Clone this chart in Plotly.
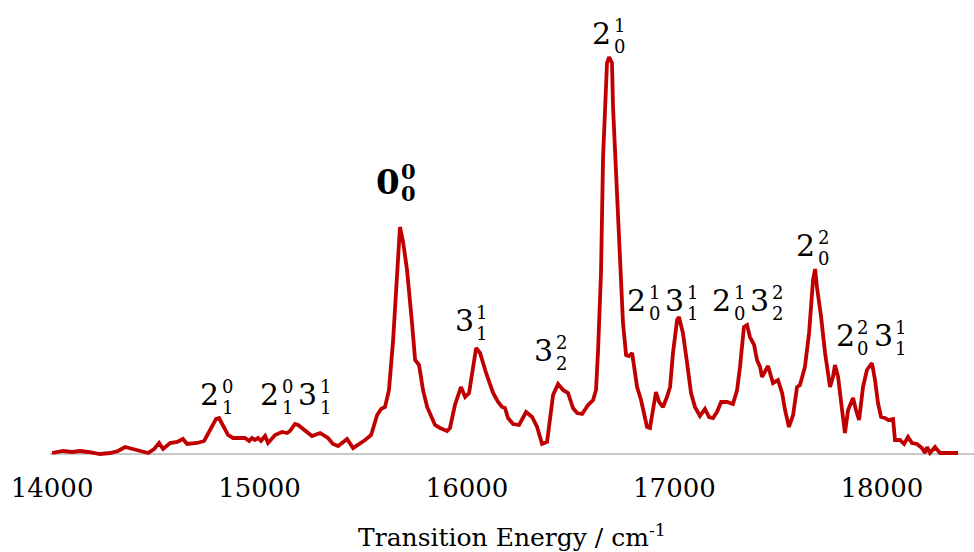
import plotly.graph_objects as go

# Spectrum: transition energy (cm^-1) vs. intensity (arbitrary units)
energy = [
    14000, 14053, 14096, 14135, 14174, 14231, 14280, 14318, 14352, 14390,
    14463, 14492, 14516, 14535, 14569, 14603, 14631, 14651, 14699, 14733,
    14762, 14790, 14805, 14824, 14848, 14872, 14930, 14950, 14964, 14978,
    14993, 15007, 15027, 15041, 15075, 15109, 15133, 15147, 15171, 15186,
    15219, 15253, 15292, 15316, 15330, 15354, 15379,
    15422, 15451, 15509, 15538, 15567, 15586, 15605, 15624, 15644, 15663,
    15677, 15692, 15711, 15735, 15750, 15769, 15788, 15808, 15846, 15870,
    15904, 15918, 15942, 15971, 15991, 16010, 16029, 16044, 16063, 16092,
    16126, 16150, 16169, 16183, 16198, 16222, 16251, 16285, 16314, 16338,
    16362, 16386, 16415, 16439, 16463, 16487, 16511, 16531, 16555, 16584,
    16608, 16622, 16632, 16646, 16656, 16675, 16685, 16699, 16704, 16723,
    16738, 16752, 16767, 16781, 16796, 16805, 16820, 16839, 16853, 16868,
    16882, 16897, 16911, 16926, 16945, 16964, 16979, 16993, 17013, 17022,
    17041, 17061, 17080, 17099, 17123, 17147, 17167, 17186, 17205, 17225,
    17254, 17282, 17302, 17316, 17335, 17350, 17364, 17384, 17398, 17413,
    17422,
    17451, 17475, 17499, 17519, 17533, 17552, 17572, 17591, 17605, 17629,
    17649, 17668, 17678, 17687, 17707, 17726, 17750, 17764, 17774, 17789,
    17808, 17822, 17837, 17861, 17875, 17890, 17909, 17928, 17952, 17967,
    17981, 17996, 18015, 18030, 18054, 18063, 18087, 18107, 18126, 18145,
    18169, 18193, 18208, 18218, 18232, 18256, 18280, 18328, 18367,
]
intensity = [
    1, 3, 2, 3, 2, 0, 1, 3, 7, 5,
    1, 5, 11, 5, 11, 12, 15, 10, 11, 13,
    24, 35, 36, 29, 19, 16, 16, 13, 16, 14,
    16, 13, 18, 11, 19, 22, 21, 23, 30, 29,
    23, 18, 21, 18, 16, 10, 8,
    15, 6, 14, 19, 39, 45, 47, 64, 114, 187,
    227, 212, 184, 131, 94, 89, 64, 47, 29, 26,
    23, 26, 49, 67, 57, 61, 87, 106, 101, 81,
    61, 52, 47, 46, 36, 30, 29, 42, 37, 27,
    10, 12, 59, 70, 64, 61, 46, 41, 40, 49,
    54, 64, 104, 181, 297, 391, 397, 391, 347, 254,
    181, 131, 99, 98, 101, 86, 67, 54, 42, 27,
    26, 47, 62, 52, 47, 57, 67, 101, 134, 137,
    121, 91, 61, 47, 38, 45, 37, 36, 42, 52,
    52, 50, 64, 87, 127, 129, 117, 109, 94, 87,
    77,
    88, 71, 74, 61, 44, 27, 39, 67, 69, 87,
    121, 174, 185, 167, 137, 101, 67, 77, 89, 77,
    44, 21, 44, 56, 44, 34, 67, 84, 91, 74,
    51, 37, 36, 34, 35, 14, 14, 10, 17, 11,
    10, 6, 1, 7, 1, 7, 1, 1, 1,
]

tick_values = [14000, 15000, 16000, 17000, 18000]
tick_labels = ["14000", "15000", "16000", "17000", "18000"]

# Peak assignments: each term is (base, superscript, subscript)
label_terms = [
    [("2", "0", "1")],
    [("2", "0", "1"), ("3", "1", "1")],
    [("0", "0", "0")],
    [("3", "1", "1")],
    [("3", "2", "2")],
    [("2", "1", "0")],
    [("2", "1", "0"), ("3", "1", "1")],
    [("2", "1", "0"), ("3", "2", "2")],
    [("2", "2", "0")],
    [("2", "2", "0"), ("3", "1", "1")],
]
label_bold = [False, False, True, False, False, False, False, False, False, False]
label_energy = [14795, 15176, 15658, 16024, 16405, 16685, 16945, 17355, 17668, 17952]
label_height = [60, 60, 272, 134, 104, 421, 154, 154, 209, 119]

AXIS_FONT = "DejaVu Serif"
LABEL_FONT = "DejaVu Serif"

fig = go.Figure()
fig.add_trace(go.Scatter(
    x=energy, y=intensity, mode="lines",
    line=dict(color="#C00000", width=3.8),
    hoverinfo="skip", showlegend=False,
))

annotations = []
for terms, bold, lx, ly in zip(label_terms, label_bold, label_energy, label_height):
    if bold:
        bsize, ssize, bw, sgap, sw, sup_dy, sub_dy = 34, 21, 20, 4, 13, 11, -11
    else:
        bsize, ssize, bw, sgap, sw, sup_dy, sub_dy = 30, 18, 15, 5, 10, 8, -13
    term_w = bw + sgap + sw
    gap = 8
    total = len(terms) * term_w + (len(terms) - 1) * gap
    left = -total / 2
    for i, (base, sup, sub) in enumerate(terms):
        tl = left + i * (term_w + gap)
        bcx = tl + bw / 2
        scx = tl + bw + sgap + sw / 2
        wrap = (lambda s: f"<b>{s}</b>") if bold else (lambda s: s)
        common = dict(x=lx, y=ly, xref="x", yref="y", showarrow=False,
                      xanchor="center", yanchor="middle")
        annotations.append(dict(text=wrap(base), xshift=bcx, yshift=0,
                                font=dict(family=LABEL_FONT, size=bsize, color="#000000"),
                                **common))
        annotations.append(dict(text=wrap(sup), xshift=scx, yshift=sup_dy,
                                font=dict(family=LABEL_FONT, size=ssize, color="#000000"),
                                **common))
        annotations.append(dict(text=wrap(sub), xshift=scx, yshift=sub_dy,
                                font=dict(family=LABEL_FONT, size=ssize, color="#000000"),
                                **common))

fig.update_layout(
    width=974, height=552,
    margin=dict(l=50, r=0, t=0, b=94),
    paper_bgcolor="white", plot_bgcolor="white",
    showlegend=False,
    annotations=annotations,
    xaxis=dict(
        range=[13990, 18444],
        tickmode="array", tickvals=tick_values, ticktext=tick_labels,
        showgrid=False, zeroline=False, showline=False, ticks="",
        ticklabelstandoff=12,
        tickfont=dict(family=AXIS_FONT, size=26, color="#000000"),
        title=dict(text="Transition Energy / cm<sup>-1</sup>",
                   font=dict(family=AXIS_FONT, size=25, color="#000000"),
                   standoff=27),
        automargin=False,
        fixedrange=True,
    ),
    yaxis=dict(
        range=[-4, 454],
        showgrid=False, showticklabels=False, showline=False, ticks="",
        zeroline=True, zerolinecolor="#C8C8C8", zerolinewidth=1.5,
        automargin=False,
        fixedrange=True,
    ),
)

fig.write_html("out.html")
